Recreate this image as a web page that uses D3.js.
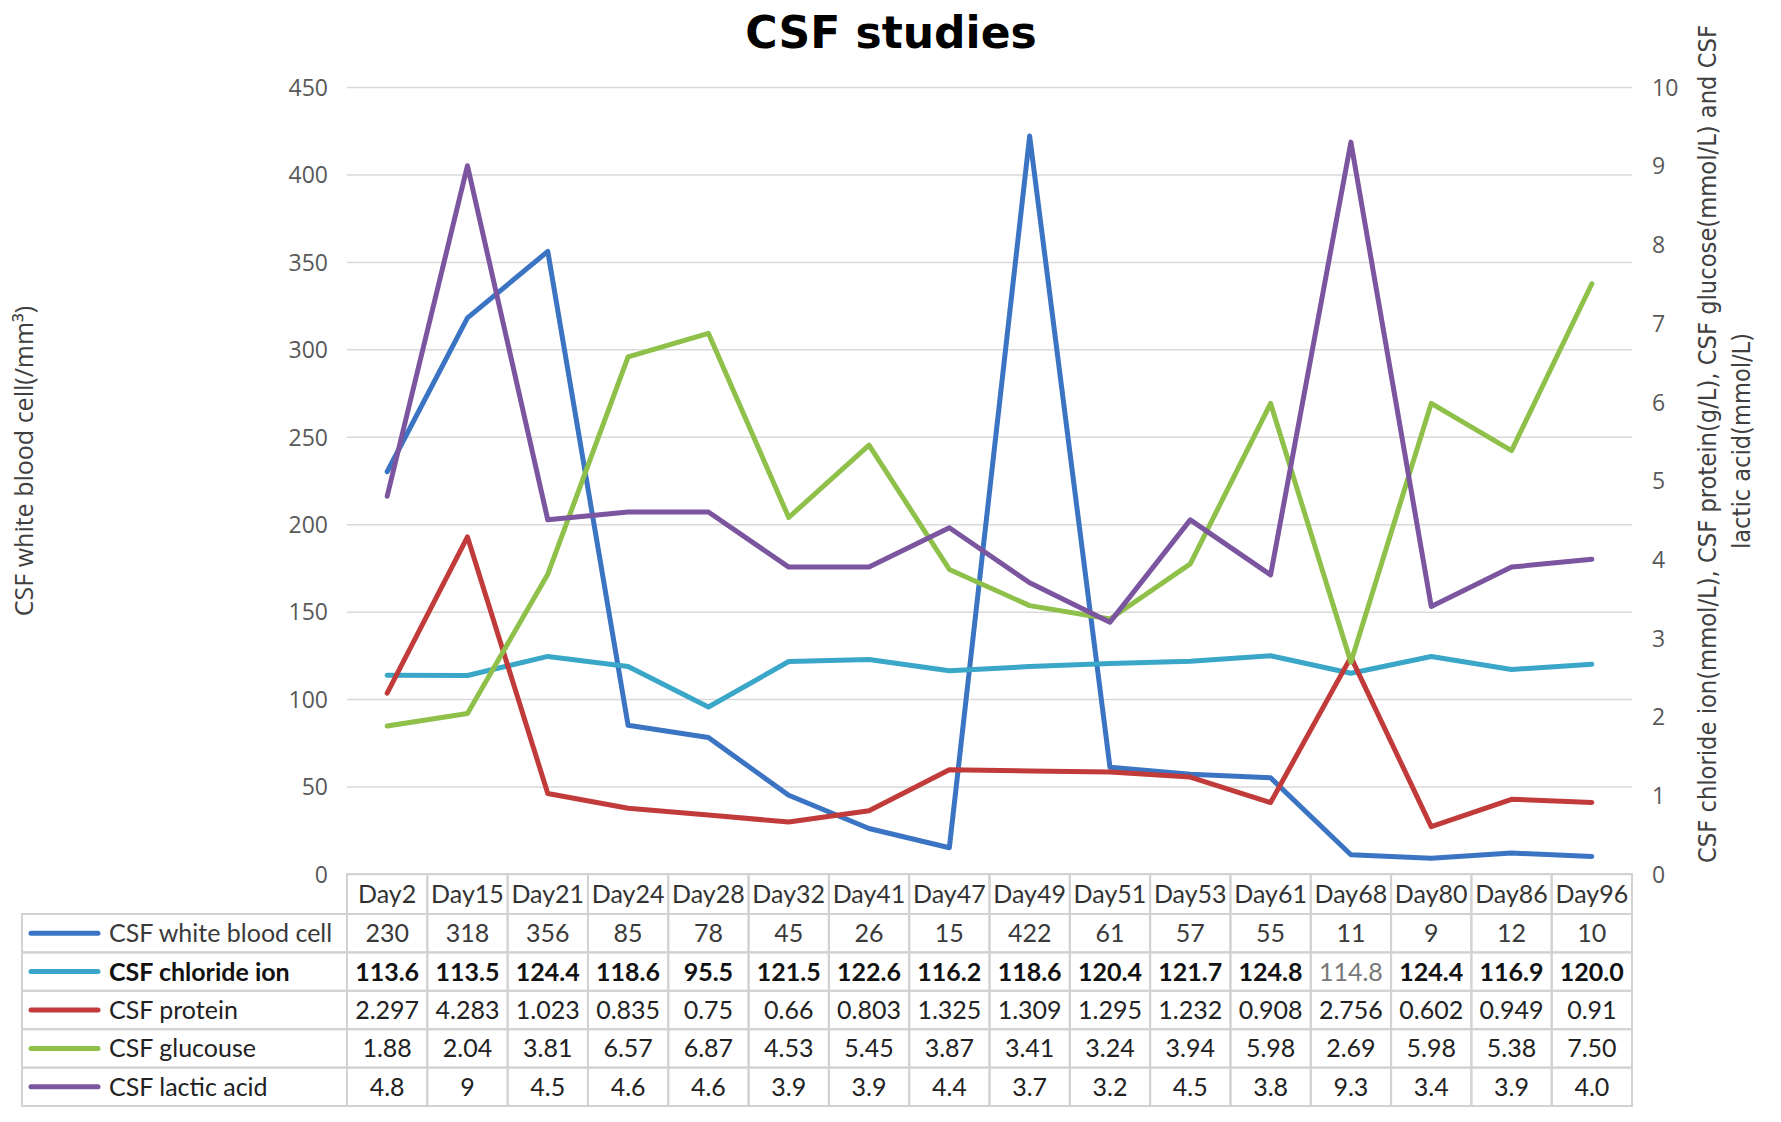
<!DOCTYPE html>
<html lang="en">
<head>
    <meta charset="UTF-8">
    <title>CSF studies</title>
    <script src="https://d3js.org/d3.v7.min.js"></script>
    <style>
        body {
            margin: 0;
            padding: 0;
            background: #fff;
        }
        svg {
            display: block;
        }
        .tick text {
            font-family: "Open Sans", sans-serif;
            font-size: 23px;
            fill: #595959;
        }
        .cell-text {
            font-family: Lato, "Open Sans", sans-serif;
            font-size: 25px;
        }
    </style>
</head>
<body>
<svg id="chart" width="1781" height="1122"></svg>
<script>
    // data
    const days = ["Day2", "Day15", "Day21", "Day24", "Day28", "Day32", "Day41", "Day47",
        "Day49", "Day51", "Day53", "Day61", "Day68", "Day80", "Day86", "Day96"];
    const whiteBloodCell = ["230", "318", "356", "85", "78", "45", "26", "15",
        "422", "61", "57", "55", "11", "9", "12", "10"];
    const chlorideIon = ["113.6", "113.5", "124.4", "118.6", "95.5", "121.5", "122.6", "116.2",
        "118.6", "120.4", "121.7", "124.8", "114.8", "124.4", "116.9", "120.0"];
    const protein = ["2.297", "4.283", "1.023", "0.835", "0.75", "0.66", "0.803", "1.325",
        "1.309", "1.295", "1.232", "0.908", "2.756", "0.602", "0.949", "0.91"];
    const glucose = ["1.88", "2.04", "3.81", "6.57", "6.87", "4.53", "5.45", "3.87",
        "3.41", "3.24", "3.94", "5.98", "2.69", "5.98", "5.38", "7.50"];
    const lacticAcid = ["4.8", "9", "4.5", "4.6", "4.6", "3.9", "3.9", "4.4",
        "3.7", "3.2", "4.5", "3.8", "9.3", "3.4", "3.9", "4.0"];
    const leftTicks = [0, 50, 100, 150, 200, 250, 300, 350, 400, 450];
    const rightTicks = [0, 1, 2, 3, 4, 5, 6, 7, 8, 9, 10];

    const series = [
        {name: "CSF white blood cell", values: whiteBloodCell, color: "#3a74c2", axis: "left", weight: "normal", fill: "#3a3a3a"},
        {name: "CSF chloride ion", values: chlorideIon, color: "#3aa6c8", axis: "left", weight: "bold", fill: "#111"},
        {name: "CSF protein", values: protein, color: "#c23b3b", axis: "right", weight: "normal", fill: "#222"},
        {name: "CSF glucouse", values: glucose, color: "#8ec04a", axis: "right", weight: "normal", fill: "#222"},
        {name: "CSF lactic acid", values: lacticAcid, color: "#7b559f", axis: "right", weight: "normal", fill: "#222"}
    ];

    const svg = d3.select("#chart");
    const plotLeft = 347, plotRight = 1632, plotTop = 87, plotBottom = 874;
    const tableLeft = 22, headerH = 40, rowH = 38.4;

    svg.append("rect").attr("width", 1781).attr("height", 1122).attr("fill", "#fff");

    const x = d3.scaleBand().domain(days).range([plotLeft, plotRight]);
    const yLeft = d3.scaleLinear().domain([0, 450]).range([plotBottom, plotTop]);
    const yRight = d3.scaleLinear().domain([0, 10]).range([plotBottom, plotTop]);

    // title
    svg.append("text")
        .attr("x", 891)
        .attr("y", 48)
        .attr("text-anchor", "middle")
        .style("font-family", "'DejaVu Sans', sans-serif")
        .style("font-weight", "bold")
        .style("font-size", "44px")
        .style("fill", "#000")
        .text("CSF studies");

    // left axis + gridlines
    const gLeft = svg.append("g")
        .attr("transform", `translate(${plotLeft},0)`)
        .call(d3.axisLeft(yLeft).tickValues(leftTicks).tickSize(-(plotRight - plotLeft)).tickPadding(19));
    gLeft.select(".domain").remove();
    gLeft.selectAll(".tick line").attr("stroke", "#d9d9d9").attr("stroke-width", 1.5);
    gLeft.selectAll(".tick text").attr("dy", "0.36em");

    // right axis
    const gRight = svg.append("g")
        .attr("transform", `translate(${plotRight},0)`)
        .call(d3.axisRight(yRight).tickValues(rightTicks).tickSize(0).tickPadding(20));
    gRight.select(".domain").remove();
    gRight.selectAll(".tick text").attr("dy", "0.36em");

    // axis titles
    svg.append("text")
        .attr("transform", "translate(33,461) rotate(-90)")
        .attr("text-anchor", "middle")
        .style("font-family", "'Open Sans', sans-serif")
        .style("font-size", "25px")
        .style("fill", "#404040")
        .text("CSF white blood cell(/mm³)");

    const rightTitle = [
        {text: "CSF chloride ion(mmol/L), CSF protein(g/L), CSF glucose(mmol/L) and CSF", cx: 1716, cy: 444, len: 838},
        {text: "lactic acid(mmol/L)", cx: 1750, cy: 441, len: 216}
    ];
    svg.selectAll(".right-title")
        .data(rightTitle)
        .enter().append("text")
        .attr("class", "right-title")
        .attr("transform", d => `translate(${d.cx},${d.cy}) rotate(-90)`)
        .attr("text-anchor", "middle")
        .attr("textLength", d => d.len)
        .attr("lengthAdjust", "spacingAndGlyphs")
        .style("font-family", "'Liberation Sans Narrow', 'DejaVu Sans Condensed', sans-serif")
        .style("font-size", "25px")
        .style("fill", "#404040")
        .text(d => d.text);

    // lines
    const cx = d => x(d) + x.bandwidth() / 2;
    series.forEach(s => {
        const y = s.axis === "left" ? yLeft : yRight;
        const line = d3.line()
            .x((d, i) => cx(days[i]))
            .y(d => y(+d));
        svg.append("path")
            .datum(s.values)
            .attr("d", line)
            .attr("fill", "none")
            .attr("stroke", s.color)
            .attr("stroke-width", 5)
            .attr("stroke-linejoin", "round")
            .attr("stroke-linecap", "round");
    });

    // data table
    const table = svg.append("g");
    const border = "#d2d2d2";

    // header row
    table.selectAll(".head-cell")
        .data(days)
        .enter().append("rect")
        .attr("class", "head-cell")
        .attr("x", d => x(d))
        .attr("y", plotBottom)
        .attr("width", x.bandwidth())
        .attr("height", headerH)
        .attr("fill", "none")
        .attr("stroke", border)
        .attr("stroke-width", 2);

    table.selectAll(".head-text")
        .data(days)
        .enter().append("text")
        .attr("class", "cell-text")
        .attr("x", d => cx(d))
        .attr("y", plotBottom + headerH / 2)
        .attr("dy", "0.36em")
        .attr("text-anchor", "middle")
        .style("fill", "#333")
        .text(d => d);

    series.forEach((s, r) => {
        const top = plotBottom + headerH + r * rowH;
        const row = table.append("g");

        row.append("rect")
            .attr("x", tableLeft)
            .attr("y", top)
            .attr("width", plotLeft - tableLeft)
            .attr("height", rowH)
            .attr("fill", "none")
            .attr("stroke", border)
            .attr("stroke-width", 2);

        row.append("line")
            .attr("x1", 31).attr("x2", 98)
            .attr("y1", top + rowH / 2).attr("y2", top + rowH / 2)
            .attr("stroke", s.color)
            .attr("stroke-width", 5)
            .attr("stroke-linecap", "round");

        row.append("text")
            .attr("class", "cell-text")
            .attr("x", 109)
            .attr("y", top + rowH / 2)
            .attr("dy", "0.36em")
            .style("font-weight", s.weight)
            .style("fill", s.fill)
            .text(s.name);

        row.selectAll(".val-cell")
            .data(days)
            .enter().append("rect")
            .attr("x", d => x(d))
            .attr("y", top)
            .attr("width", x.bandwidth())
            .attr("height", rowH)
            .attr("fill", "none")
            .attr("stroke", border)
            .attr("stroke-width", 2);

        row.selectAll(".val-text")
            .data(s.values)
            .enter().append("text")
            .attr("class", "cell-text")
            .attr("x", (d, i) => cx(days[i]))
            .attr("y", top + rowH / 2)
            .attr("dy", "0.36em")
            .attr("text-anchor", "middle")
            .style("font-weight", (d, i) => (s.weight === "bold" && days[i] === "Day68") ? "normal" : s.weight)
            .style("fill", (d, i) => (s.weight === "bold" && days[i] === "Day68") ? "#777" : s.fill)
            .text(d => d);
    });
</script>
</body>
</html>
